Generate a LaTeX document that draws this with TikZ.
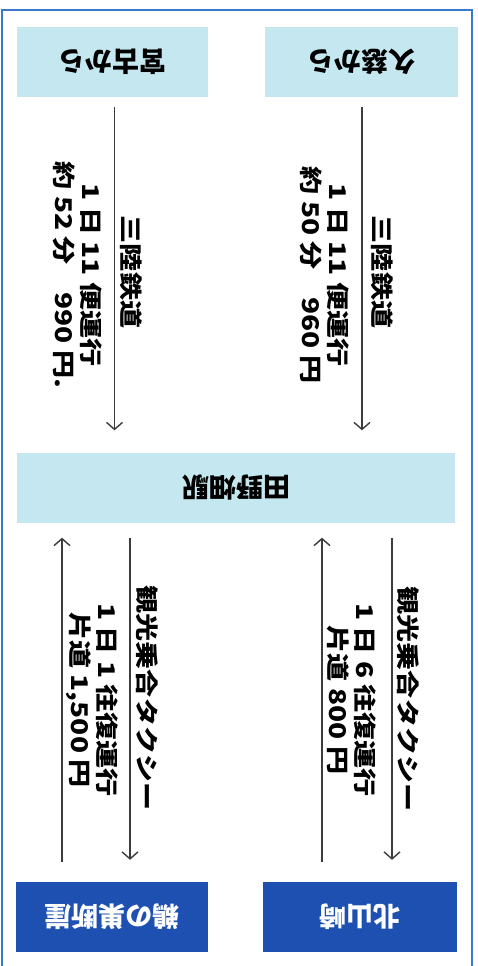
\documentclass[tikz,border=0pt]{standalone}
\usepackage{fontspec}
\usepackage{graphicx}
\setmainfont{Noto Sans CJK JP}
\newfontfamily\widejp{Noto Sans CJK JP}[FakeStretch=1.22]
\usetikzlibrary{arrows.meta,calc}
\definecolor{frameblue}{HTML}{3A78D0}
\definecolor{palecyan}{HTML}{C4E7F0}
\definecolor{deepblue}{HTML}{1E50B2}
\definecolor{linegray}{HTML}{3C3C3C}
\newcommand{\upsidedown}[1]{\rotatebox[origin=c]{180}{#1}}
\begin{document}
\begin{tikzpicture}[x=1pt,y=-1pt,
    stopbox/.style={fill=palecyan, minimum height=70pt, inner sep=0pt,
        font=\fontsize{27}{27}\selectfont\bfseries},
    destbox/.style={stopbox, fill=deepblue, text=white},
    routename/.style={rotate=-90, inner sep=0pt, font=\widejp\fontsize{23}{23}\selectfont\bfseries},
    routeinfo/.style={rotate=-90, inner sep=0pt, align=center,
        font=\widejp\fontsize{23}{27}\selectfont\bfseries},
    arr/.style={draw=linegray, line width=1.4pt, -{Straight Barb[length=7pt,width=16pt]}}]
    \useasboundingbox (0,0) rectangle (478,966);
    \draw[frameblue, line width=2.2pt] (2,10) rectangle (472,980);
    % departure and destination boxes
    \node[stopbox, minimum width=191pt] (miyako) at (112.5,62) {\upsidedown{宮古から}};
    \node[stopbox, minimum width=193pt] (kuji) at (361.5,62) {\upsidedown{久慈から}};
    \node[stopbox, minimum width=438pt] (tanohata) at (236,487.5) {\upsidedown{田野畑駅}};
    \node[destbox, minimum width=192pt] (unosu) at (112,917) {\upsidedown{鵜の巣断崖}};
    \node[destbox, minimum width=194pt] (kitayama) at (360,917) {\upsidedown{北山崎}};
    % railway
    \node[routename] (kujirail) at (382,272) {三陸鉄道};
    \node[routeinfo] (kujiinfo) at (325,275) {1 日 11 便運行\\約 50 分　960 円};
    \node[routename] (miyakorail) at (131,272) {三陸鉄道};
    \node[routeinfo] (miyakoinfo) at (77.5,275) {1 日 11 便運行\\約 52 分　990 円.};
    \draw[arr] ($(kuji.south)+(0.5,10)$) -- ($(tanohata.north -| kuji.south)+(0.5,-22)$);
    \draw[arr] ($(miyako.south)+(2,10)$) -- ($(tanohata.north -| miyako.south)+(2,-22)$);
    % taxi
    \node[routename] (kitataxi) at (408,699) {観光乗合タクシー};
    \node[routeinfo] (kitainfo) at (352,700) {1 日 6 往復運行\\片道 800 円};
    \node[routename] (unosutaxi) at (147,698) {観光乗合タクシー};
    \node[routeinfo] (unosuinfo) at (92,700) {1 日 1 往復運行\\片道 1,500 円};
    \draw[arr] ($(tanohata.south -| kitayama.north)+(32,15)$) -- ($(kitayama.north)+(32,-22)$);
    \draw[arr] ($(kitayama.north)+(-38,-20)$) -- ($(tanohata.south -| kitayama.north)+(-38,15)$);
    \draw[arr] ($(tanohata.south -| unosu.north)+(18,15)$) -- ($(unosu.north)+(18,-22)$);
    \draw[arr] ($(unosu.north)+(-50,-20)$) -- ($(tanohata.south -| unosu.north)+(-50,15)$);
\end{tikzpicture}
\end{document}
